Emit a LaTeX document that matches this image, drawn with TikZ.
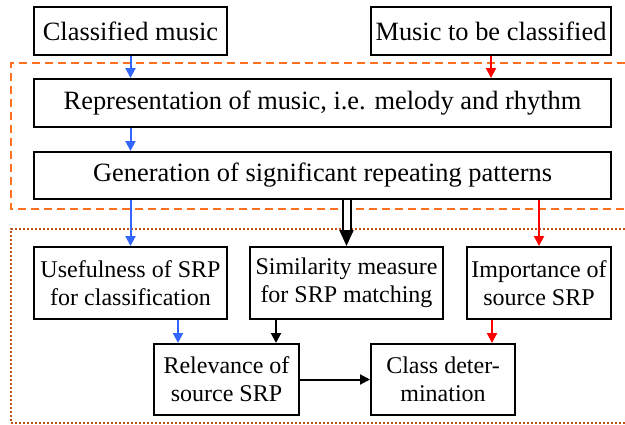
\documentclass[tikz,border=0pt]{standalone}
\usepackage{fontspec}
\setmainfont{Liberation Serif}
\usepackage{tikz}
\usetikzlibrary{arrows.meta,positioning,calc}
\definecolor{srpblue}{HTML}{3366FF}
\definecolor{srpred}{HTML}{FF0000}
\definecolor{orangeline}{HTML}{FF7020}
\definecolor{brownline}{HTML}{C0501A}

\begin{document}
\begin{tikzpicture}[
  x=0.5pt,y=-0.5pt,
  font=\fontsize{13.2}{14}\selectfont,
  box/.style={draw,line width=1pt,inner sep=0pt,align=center},
  small/.style={box,font=\fontsize{12}{14}\selectfont},
  arr/.style={-{Triangle[length=5pt,width=5pt]},line width=1pt},
  dblarr/.style={double,double distance=3pt,line width=1pt,-{Triangle[length=8pt,width=7pt]}}
]
\useasboundingbox (0,0) rectangle (625,424);
\node[box,minimum width=96.5pt,minimum height=24pt] (cls) at (130.5,31) {Classified music};
\node[box,minimum width=120pt,minimum height=24pt] (tobe) at (491,31) {Music to be classified};
\node[box,minimum width=288.5pt,minimum height=24pt] (repr) at (322.5,103) {Representation of music, i.e. melody and rhythm};
\node[box,minimum width=288.5pt,minimum height=23.5pt] (gen) at (322.5,175.5) {Generation of significant repeating patterns};

\node[small,minimum width=96.5pt,minimum height=36pt] (useful) at (130.5,283) {Usefulness of SRP\\for classification};
\node[small,minimum width=96.5pt,minimum height=36pt] (simil) at (346.5,283) {Similarity measure\\for SRP matching};
\node[small,minimum width=72pt,minimum height=36pt] (imp) at (539,283) {Importance of\\source SRP};
\node[small,minimum width=72.5pt,minimum height=35.5pt] (relev) at (226.5,379.5) {Relevance of\\source SRP};
\node[small,minimum width=72pt,minimum height=35.5pt] (classdet) at (443,379.5) {Class deter-\\mination};

% groups
\draw[orangeline,line width=1pt,dash pattern=on 4pt off 2.5pt] (625,63) -- (11,63) -- (11,209) -- (625,209);
\draw[brownline,line width=1pt,dash pattern=on 1pt off 1pt] (625,229) -- (11,229) -- (11,423) -- (625,423);

\draw[arr,srpblue] (cls.south) -- (cls.south |- repr.north);
\draw[arr,srpred] (tobe.south) -- (tobe.south |- repr.north);
\draw[arr,srpblue] (cls.south |- repr.south) -- (cls.south |- gen.north);
\draw[arr,srpblue] (useful.north |- gen.south) -- (useful.north);
\draw[dblarr] (simil.north |- gen.south) -- (simil.north);
\draw[arr,srpred] (imp.north |- gen.south) -- (imp.north);
\draw[arr,srpblue] ([xshift=12.5pt]relev.north west |- useful.south) -- ([xshift=12.5pt]relev.north west);
\draw[arr] ([xshift=-12pt]relev.north east |- simil.south) -- ([xshift=-12pt]relev.north east);
\draw[arr,srpred] ([xshift=-12pt]classdet.north east |- imp.south) -- ([xshift=-12pt]classdet.north east);
\draw[arr] (relev.east) -- (classdet.west);
\end{tikzpicture}
\end{document}
